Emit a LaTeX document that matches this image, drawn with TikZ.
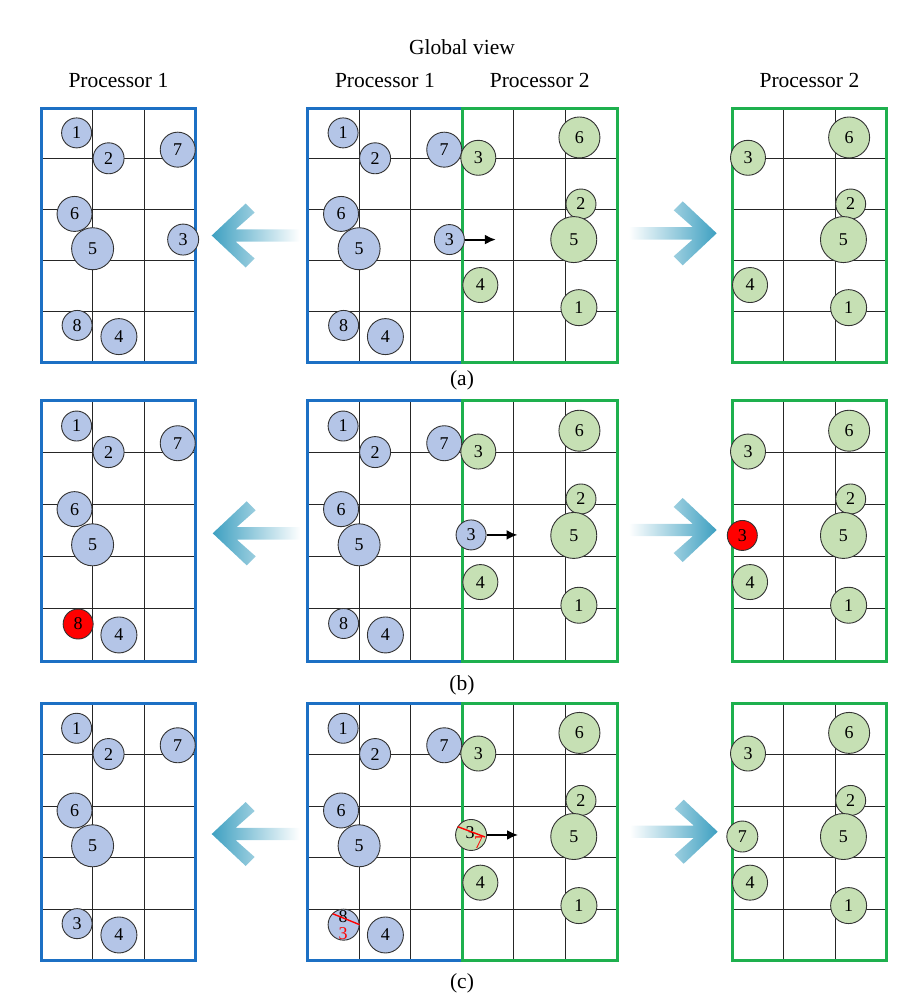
\documentclass[tikz,border=0pt]{standalone}
\usepackage{fontspec}
\setmainfont{Liberation Serif}
\usetikzlibrary{positioning,arrows.meta}
\definecolor{procblue}{RGB}{28,112,196}
\definecolor{procgreen}{RGB}{30,176,78}
\definecolor{ballblue}{RGB}{180,197,231}
\definecolor{ballgreen}{RGB}{198,224,180}
\definecolor{flowteal}{RGB}{62,160,193}
\tikzset{
  gridline/.style={line width=1.1pt, black!85},
  bluebox/.style={line width=3pt, procblue},
  greenbox/.style={line width=3pt, procgreen},
  num/.style={inner sep=0pt, font=\fontsize{18pt}{18pt}\selectfont},
  ball/.style={num, circle, draw=black!80, line width=0.9pt, minimum size=#1},
  bball/.style={ball=#1, fill=ballblue},
  gball/.style={ball=#1, fill=ballgreen},
  rball/.style={ball=#1, fill=red},
  lab/.style={font=\fontsize{21.5pt}{24pt}\selectfont},
  move/.style={line width=2pt, -{Latex[length=11pt,width=10pt]}},
  strike/.style={red, line width=1.4pt},
  pics/leftflow/.style={code={
    \shade[left color=flowteal, right color=white] (0,0) -- (34pt,32pt) -- (43pt,23pt) -- (24pt,6.2pt) -- (88pt,6.2pt)
      -- (88pt,-6.2pt) -- (24pt,-6.2pt) -- (43pt,-23pt) -- (34pt,-32pt) -- cycle;}},
  pics/rightflow/.style={code={
    \shade[left color=white, right color=flowteal] (0,0) -- (-34pt,32pt) -- (-43pt,23pt) -- (-24pt,6.2pt) -- (-88pt,6.2pt)
      -- (-88pt,-6.2pt) -- (-24pt,-6.2pt) -- (-43pt,-23pt) -- (-34pt,-32pt) -- cycle;}},
}
\begin{document}
\begin{tikzpicture}[x=1pt, y=-1pt]
\useasboundingbox (0,0) rectangle (913,1002);
\node [lab] (global) at (462,47) {Global view};

% (a)
\begin{scope}[shift={(41pt,-108pt)}, x=51.6pt, y=-50.8pt]
\foreach \i in {1,2} \draw [gridline] (\i,0) -- (\i,5);
\foreach \j in {1,...,4} \draw [gridline] (0,\j) -- (3,\j);
\draw [bluebox] (0,0) rectangle (3,5);
\foreach \n/\px/\py/\d in {1/0.69/0.49/30pt, 2/1.31/0.99/31pt, 7/2.65/0.82/35pt, 6/0.65/2.085/35pt, 5/1.0/2.77/42pt, 4/1.51/4.5/36pt}
  \node [bball=\d] (aL\n) at (\px,\py) {\n};
\node [bball=31pt] (aL3) at (2.755,2.59) {3};
\node [bball=30pt] (aL8) at (0.7,4.28) {8};
\node [lab] (aLtitle) at (1.5,-0.54) {Processor 1};
\end{scope}

\begin{scope}[shift={(307.5pt,-108pt)}, x=51.6pt, y=-50.8pt]
\foreach \i in {1,...,5} \draw [gridline] (\i,0) -- (\i,5);
\foreach \j in {1,...,4} \draw [gridline] (0,\j) -- (6,\j);
\draw [bluebox] (3,0) -- (0,0) -- (0,5) -- (3,5);
\draw [greenbox] (3,0) rectangle (6,5);
\foreach \n/\px/\py/\d in {1/0.69/0.49/30pt, 2/1.31/0.99/31pt, 7/2.65/0.82/35pt, 6/0.65/2.085/35pt, 5/1.0/2.77/42pt, 4/1.51/4.5/36pt}
  \node [bball=\d] (aM\n) at (\px,\py) {\n};
\node [bball=30pt] (aM8) at (0.7,4.28) {8};
\foreach \n/\px/\py/\d in {3/3.31/0.98/35pt, 6/5.27/0.58/41pt, 2/5.3/1.89/30pt, 5/5.16/2.59/46pt, 4/3.35/3.485/35pt, 1/5.26/3.93/36pt}
  \node [gball=\d] (aMg\n) at (\px,\py) {\n};
\node [bball=30pt] (aM3) at (2.75,2.59) {3};
\coordinate [right=31pt of aM3] (aMgo);
\draw [move] (aM3) -- (aMgo);
\node [lab] (aMtitle1) at (1.5,-0.54) {Processor 1};
\node [lab] (aMtitle2) at (4.5,-0.54) {Processor 2};
\end{scope}

\begin{scope}[shift={(732pt,-108pt)}, x=51.6pt, y=-50.8pt]
\foreach \i in {1,2} \draw [gridline] (\i,0) -- (\i,5);
\foreach \j in {1,...,4} \draw [gridline] (0,\j) -- (3,\j);
\draw [greenbox] (0,0) rectangle (3,5);
\foreach \n/\px/\py/\d in {3/0.31/0.98/35pt, 6/2.27/0.58/41pt, 2/2.3/1.89/30pt, 5/2.16/2.59/46pt, 4/0.35/3.485/35pt, 1/2.26/3.93/36pt}
  \node [gball=\d] (aR\n) at (\px,\py) {\n};
\node [lab] (aRtitle) at (1.5,-0.54) {Processor 2};
\end{scope}

\pic at (211.7,235.5) {leftflow};
\pic at (716.7,233.3) {rightflow};
\node [lab] (capa) at (462,380) {(a)};

% (b)
\begin{scope}[shift={(41pt,-400.5pt)}, x=51.6pt, y=-52.1pt]
\foreach \i in {1,2} \draw [gridline] (\i,0) -- (\i,5);
\foreach \j in {1,...,4} \draw [gridline] (0,\j) -- (3,\j);
\draw [bluebox] (0,0) rectangle (3,5);
\foreach \n/\px/\py/\d in {1/0.69/0.49/30pt, 2/1.31/0.99/31pt, 7/2.65/0.82/35pt, 6/0.65/2.085/35pt, 5/1.0/2.77/42pt, 4/1.51/4.5/36pt}
  \node [bball=\d] (bL\n) at (\px,\py) {\n};
\node [rball=30pt] (bL8) at (0.72,4.29) {8};
\end{scope}

\begin{scope}[shift={(307.5pt,-400.5pt)}, x=51.6pt, y=-52.1pt]
\foreach \i in {1,...,5} \draw [gridline] (\i,0) -- (\i,5);
\foreach \j in {1,...,4} \draw [gridline] (0,\j) -- (6,\j);
\draw [bluebox] (3,0) -- (0,0) -- (0,5) -- (3,5);
\draw [greenbox] (3,0) rectangle (6,5);
\foreach \n/\px/\py/\d in {1/0.69/0.49/30pt, 2/1.31/0.99/31pt, 7/2.65/0.82/35pt, 6/0.65/2.085/35pt, 5/1.0/2.77/42pt, 4/1.51/4.5/36pt}
  \node [bball=\d] (bM\n) at (\px,\py) {\n};
\node [bball=30pt] (bM8) at (0.7,4.28) {8};
\foreach \n/\px/\py/\d in {3/3.31/0.98/35pt, 6/5.27/0.58/41pt, 2/5.3/1.89/30pt, 5/5.16/2.59/46pt, 4/3.35/3.485/35pt, 1/5.26/3.93/36pt}
  \node [gball=\d] (bMg\n) at (\px,\py) {\n};
\node [bball=30pt] (bM3) at (3.17,2.58) {3};
\coordinate [right=31pt of bM3] (bMgo);
\draw [move] (bM3) -- (bMgo);
\end{scope}

\begin{scope}[shift={(732pt,-400.5pt)}, x=51.6pt, y=-52.1pt]
\foreach \i in {1,2} \draw [gridline] (\i,0) -- (\i,5);
\foreach \j in {1,...,4} \draw [gridline] (0,\j) -- (3,\j);
\draw [greenbox] (0,0) rectangle (3,5);
\foreach \n/\px/\py/\d in {3/0.31/0.98/35pt, 6/2.27/0.58/41pt, 2/2.3/1.89/30pt, 5/2.16/2.59/46pt, 4/0.35/3.485/35pt, 1/2.26/3.93/36pt}
  \node [gball=\d] (bR\n) at (\px,\py) {\n};
\node [rball=30pt] (bR3) at (0.2,2.59) {3};
\end{scope}

\pic at (212.7,533.3) {leftflow};
\pic at (716.7,530) {rightflow};
\node [lab] (capb) at (462,685) {(b)};

% (c)
\begin{scope}[shift={(41pt,-703pt)}, x=51.6pt, y=-51.55pt]
\foreach \i in {1,2} \draw [gridline] (\i,0) -- (\i,5);
\foreach \j in {1,...,4} \draw [gridline] (0,\j) -- (3,\j);
\draw [bluebox] (0,0) rectangle (3,5);
\foreach \n/\px/\py/\d in {1/0.69/0.49/30pt, 2/1.31/0.99/31pt, 7/2.65/0.82/35pt, 6/0.65/2.085/35pt, 5/1.0/2.77/42pt, 4/1.51/4.5/36pt}
  \node [bball=\d] (cL\n) at (\px,\py) {\n};
\node [bball=30pt] (cL3) at (0.7,4.28) {3};
\end{scope}

\begin{scope}[shift={(307.5pt,-703pt)}, x=51.6pt, y=-51.55pt]
\foreach \i in {1,...,5} \draw [gridline] (\i,0) -- (\i,5);
\foreach \j in {1,...,4} \draw [gridline] (0,\j) -- (6,\j);
\draw [bluebox] (3,0) -- (0,0) -- (0,5) -- (3,5);
\draw [greenbox] (3,0) rectangle (6,5);
\foreach \n/\px/\py/\d in {1/0.69/0.49/30pt, 2/1.31/0.99/31pt, 7/2.65/0.82/35pt, 6/0.65/2.085/35pt, 5/1.0/2.77/42pt, 4/1.51/4.5/36pt}
  \node [bball=\d] (cM\n) at (\px,\py) {\n};
\foreach \n/\px/\py/\d in {3/3.31/0.98/35pt, 6/5.27/0.58/41pt, 2/5.3/1.89/30pt, 5/5.16/2.59/46pt, 4/3.35/3.485/35pt, 1/5.26/3.93/36pt}
  \node [gball=\d] (cMg\n) at (\px,\py) {\n};
\node [bball=31pt] (cM8) at (0.7,4.3) {};
\node [num] (cM8old) at ([shift={(-0.6pt,8.5pt)}]cM8.center) {8};
\node [num, red] (cM8new) at ([shift={(-0.6pt,-8.6pt)}]cM8.center) {3};
\draw [strike] ([shift={(-11pt,11pt)}]cM8.center) -- ([shift={(16pt,0pt)}]cM8.center);
\node [gball=31pt] (cM3) at (3.17,2.56) {};
\node [num] (cM3old) at ([shift={(-1pt,2.5pt)}]cM3.center) {3};
\node [num, red] (cM3new) at ([shift={(7.6pt,-7.6pt)}]cM3.center) {7};
\draw [strike] ([shift={(-13.4pt,8.3pt)}]cM3.center) -- ([shift={(14pt,-2pt)}]cM3.center);
\coordinate [right=31pt of cM3] (cMgo);
\draw [move] (cM3) -- (cMgo);
\end{scope}

\begin{scope}[shift={(732pt,-703pt)}, x=51.6pt, y=-51.55pt]
\foreach \i in {1,2} \draw [gridline] (\i,0) -- (\i,5);
\foreach \j in {1,...,4} \draw [gridline] (0,\j) -- (3,\j);
\draw [greenbox] (0,0) rectangle (3,5);
\foreach \n/\px/\py/\d in {3/0.31/0.98/35pt, 6/2.27/0.58/41pt, 2/2.3/1.89/30pt, 5/2.16/2.59/46pt, 4/0.35/3.485/35pt, 1/2.26/3.93/36pt}
  \node [gball=\d] (cR\n) at (\px,\py) {\n};
\node [gball=31pt] (cR7) at (0.2,2.59) {7};
\end{scope}

\pic at (211.7,834) {leftflow};
\pic at (717.7,831.7) {rightflow};
\node [lab] (capc) at (462,983) {(c)};
\end{tikzpicture}
\end{document}
